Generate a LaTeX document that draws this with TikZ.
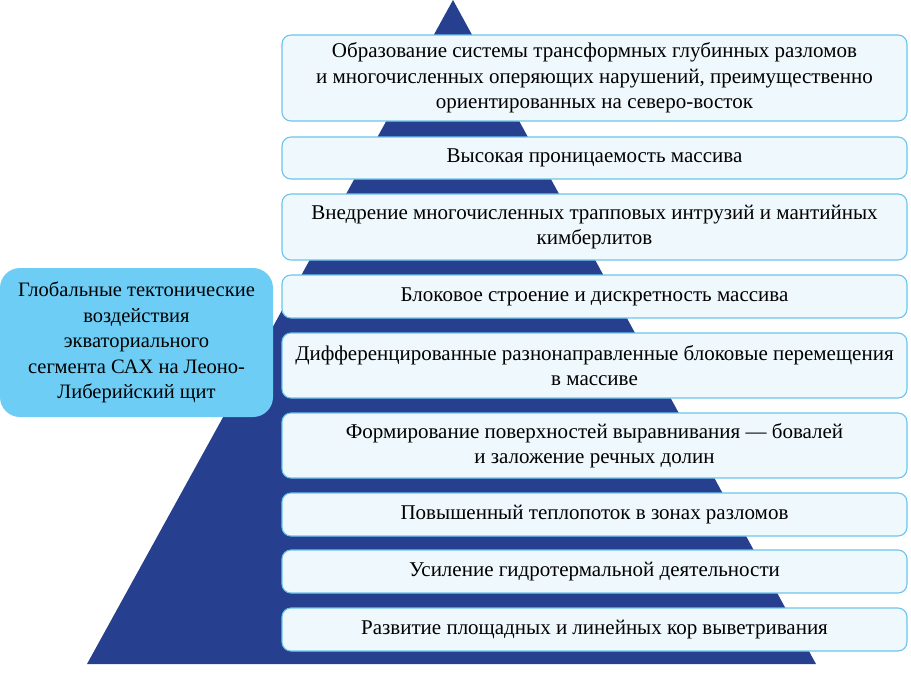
\documentclass[tikz,border=0pt]{standalone}
\usepackage{fontspec}
\setmainfont{Liberation Serif}
\definecolor{pyrblue}{HTML}{26408F}
\definecolor{boxfill}{HTML}{EFF8FD}
\definecolor{boxline}{HTML}{6CC4EA}
\definecolor{causefill}{HTML}{6DCDF5}
\tikzset{
  stage/.style={draw=boxline, line width=1.1pt, fill=boxfill, rounded corners=9pt,
    minimum width=625pt, align=center, inner sep=0pt,
    font=\fontsize{21}{25.5}\selectfont},
  cause/.style={fill=causefill, rounded corners=20pt, minimum width=273pt,
    minimum height=149pt, align=center, inner sep=0pt,
    font=\fontsize{20.5}{25.5}\selectfont}
}
\begin{document}
\begin{tikzpicture}[x=1pt, y=-1pt, line join=round]
	\useasboundingbox (0,0) rectangle (911,673);
	\def\xbox{594.5}
	% pyramid
	\fill[pyrblue] (453,0)--(816,664)--(87,664)--cycle;
	% stages
	\node[stage, minimum height=86pt] (s1) at (\xbox,78) {Образование системы трансформных глубинных разломов\\и многочисленных оперяющих нарушений, преимущественно\\ориентированных на северо-восток};
	\node[stage, minimum height=42pt] (s2) at (\xbox,158) {Высокая проницаемость массива};
	\node[stage, minimum height=66pt] (s3) at (\xbox,227) {Внедрение многочисленных трапповых интрузий и мантийных\\кимберлитов};
	\node[stage, minimum height=43pt] (s4) at (\xbox,296.5) {Блоковое строение и дискретность массива};
	\node[stage, minimum height=65pt] (s5) at (\xbox,365.5) {Дифференцированные разнонаправленные блоковые перемещения\\в массиве};
	\node[stage, minimum height=65pt] (s6) at (\xbox,445.5) {Формирование поверхностей выравнивания — бовалей\\и заложение речных долин};
	\node[stage, minimum height=43pt] (s7) at (\xbox,514.5) {Повышенный теплопоток в зонах разломов};
	\node[stage, minimum height=43pt] (s8) at (\xbox,571.5) {Усиление гидротермальной деятельности};
	\node[stage, minimum height=43pt] (s9) at (\xbox,629.5) {Развитие площадных и линейных кор выветривания};
	% global cause
	\node[cause] (glob) at (136.5,342.5) {Глобальные тектонические\\воздействия\\экваториального\\сегмента САХ на Леоно-\\Либерийский щит};
\end{tikzpicture}
\end{document}
